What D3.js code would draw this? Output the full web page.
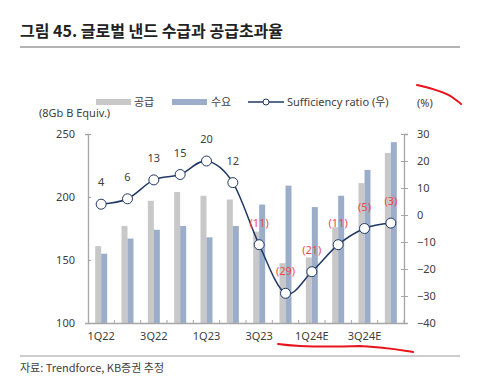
<!DOCTYPE html>
<html><head><meta charset="utf-8">
<script src="https://cdn.jsdelivr.net/npm/d3@7"></script>
<style>
body{margin:0;background:#fff;}
text{font-family:"Noto Sans","Noto Sans CJK KR",sans-serif;}
.kr{font-family:"Noto Sans CJK KR","Noto Sans",sans-serif;}
</style></head>
<body><svg id="c" width="480" height="390"></svg>
<script>
const quarters = ["1Q22","2Q22","3Q22","4Q22","1Q23","2Q23","3Q23","4Q23","1Q24E","2Q24E","3Q24E","4Q24E"];
const xTickLabels = ["1Q22","3Q22","1Q23","3Q23","1Q24E","3Q24E"];
const supply = [161, 177, 197, 204, 201, 198, 172.5, 147.5, 152, 176, 211, 235];
const demand = [155, 167, 174, 177, 168, 177, 194, 209, 192, 201, 221.5, 243.5];
const ratio = [4, 6, 13, 15, 20, 12, -11, -29, -21, -11, -5, -3];
const leftTicks = [100, 150, 200, 250];
const rightTicks = [-40, -30, -20, -10, 0, 10, 20, 30];

const svg = d3.select("#c");
const L = 88, R = 404, T = 134, B = 323;
const x = d3.scaleBand().domain(quarters).range([L, R]);
const yL = d3.scaleLinear().domain([100, 250]).range([B, T]);
const yR = d3.scaleLinear().domain([-40, 30]).range([B, T]);
const axisCol = "#a6a6a6", txtCol = "#404040";

// title
svg.append("text").attr("class","kr").attr("x",20).attr("y",37).attr("font-size",16).attr("font-weight",700)
  .attr("fill","#222").text("그림 45. 글로벌 낸드 수급과 공급초과율");
svg.append("line").attr("x1",20).attr("x2",460).attr("y1",47).attr("y2",47).attr("stroke","#9a9a9a").attr("stroke-width",1.5);

// legend
const lg = svg.append("g");
lg.append("rect").attr("x",96).attr("y",99).attr("width",35).attr("height",6).attr("fill","#c8c8c8");
lg.append("text").attr("class","kr").attr("x",134).attr("y",106).attr("font-size",11).attr("fill",txtCol).text("공급");
lg.append("rect").attr("x",172).attr("y",99).attr("width",35).attr("height",6).attr("fill","#9badc9");
lg.append("text").attr("class","kr").attr("x",211).attr("y",106).attr("font-size",11).attr("fill",txtCol).text("수요");
lg.append("line").attr("x1",248).attr("x2",284).attr("y1",102).attr("y2",102).attr("stroke","#1f3864").attr("stroke-width",1.5);
lg.append("circle").attr("cx",266).attr("cy",102).attr("r",3).attr("fill","#fff").attr("stroke","#1f3864").attr("stroke-width",1);
lg.append("text").attr("x",287).attr("y",106).attr("font-size",11).attr("fill",txtCol).text("Sufficiency ratio (우)");
svg.append("text").attr("x",417).attr("y",107).attr("font-size",11).attr("fill",txtCol).text("(%)");
svg.append("text").attr("x",39).attr("y",117).attr("font-size",11).attr("fill",txtCol).text("(8Gb B Equiv.)");

// bars
const bw = 6;
const g = svg.append("g");
g.selectAll(".s").data(quarters).join("rect")
  .attr("x", d => x(d) + x.bandwidth()/2 - bw).attr("width", bw)
  .attr("y", (d,i) => yL(supply[i])).attr("height", (d,i) => B - yL(supply[i]))
  .attr("fill","#c8c8c8");
g.selectAll(".d").data(quarters).join("rect")
  .attr("x", d => x(d) + x.bandwidth()/2).attr("width", bw)
  .attr("y", (d,i) => yL(demand[i])).attr("height", (d,i) => B - yL(demand[i]))
  .attr("fill","#9badc9");

// axes
const aL = svg.append("g").attr("transform",`translate(${L},0)`)
  .call(d3.axisLeft(yL).tickValues(leftTicks).tickSize(3).tickPadding(10));
const aR = svg.append("g").attr("transform",`translate(${R},0)`)
  .call(d3.axisRight(yR).tickValues(rightTicks).tickSize(4).tickPadding(9).tickFormat(d => d < 0 ? "\u2212" + Math.abs(d) : d));
const aB = svg.append("g").attr("transform",`translate(0,${B})`)
  .call(d3.axisBottom(x).tickValues(xTickLabels).tickSize(0).tickPadding(9));
[aL,aR,aB].forEach(a => {
  a.selectAll("path").attr("stroke",axisCol).attr("stroke-width",1.3);
  a.selectAll("line").attr("stroke",axisCol);
  a.selectAll("text").attr("fill",txtCol).attr("font-size",11).attr("font-family","Noto Sans, sans-serif");
});
aL.selectAll(".tick line").attr("x2",3);
aR.selectAll(".tick line").attr("x1",-3);
// band boundary ticks on x-axis
svg.append("g").selectAll("line").data(quarters.slice(1).concat(["__end"])).join("line")
  .attr("x1", d => d === "__end" ? R : x(d)).attr("x2", d => d === "__end" ? R : x(d))
  .attr("y1", B - 3).attr("y2", B).attr("stroke", axisCol);

// line
const cx = (d,i) => x(quarters[i]) + x.bandwidth()/2;
const line = d3.line().x((d,i) => cx(d,i)).y(d => yR(d)).curve(d3.curveCardinal.tension(0));
svg.append("path").datum(ratio).attr("d",line).attr("fill","none").attr("stroke","#1f3864").attr("stroke-width",1.5);
svg.append("g").selectAll("circle").data(ratio).join("circle")
  .attr("cx",cx).attr("cy",d => yR(d)).attr("r",5).attr("fill","#fff").attr("stroke","#1f3864").attr("stroke-width",1);
svg.append("g").selectAll("text").data(ratio).join("text")
  .attr("x",cx).attr("y",d => yR(d) - 18).attr("text-anchor","middle").attr("font-size",11)
  .attr("fill",d => d < 0 ? "#f04848" : txtCol)
  .text(d => d < 0 ? `(${Math.abs(d)})` : d);

// footer
svg.append("line").attr("x1",20).attr("x2",460).attr("y1",356).attr("y2",356).attr("stroke","#9a9a9a").attr("stroke-width",1);
svg.append("text").attr("class","kr").attr("x",20).attr("y",372).attr("font-size",11).attr("fill",txtCol).text("자료: Trendforce, KB증권 추정");

// hand-drawn red annotations
svg.append("path").attr("d","M417,85 C430,88 445,92 452,97 C456,100 459,102 461,104")
  .attr("fill","none").attr("stroke","#e8141b").attr("stroke-width",2).attr("stroke-linecap","round");
svg.append("path").attr("d","M278,344 C300,347 330,347 360,346 C385,347 400,350 413,352")
  .attr("fill","none").attr("stroke","#e8141b").attr("stroke-width",2).attr("stroke-linecap","round");
</script></body></html>
